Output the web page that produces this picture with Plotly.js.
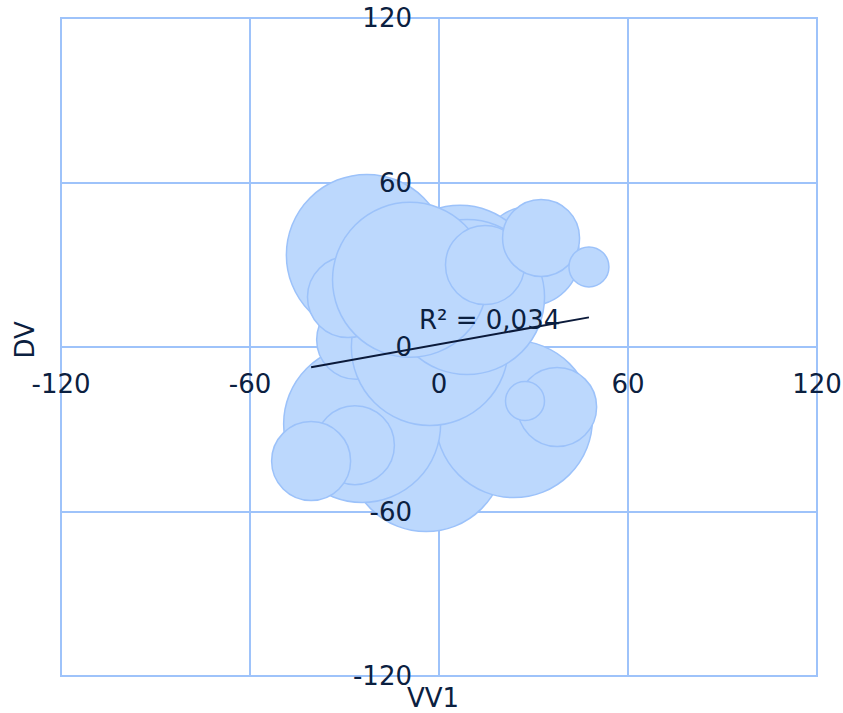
<!DOCTYPE html>
<html>
<head>
<meta charset="utf-8">
<script src="https://cdn.plot.ly/plotly-3.0.1.min.js"></script>
<style>html,body{margin:0;padding:0;background:#fff;}#chart{width:843px;height:713px;}</style>
</head>
<body>
<div id="chart"></div>
<script>
// Bubble data (VV1, DV, bubble diameter in px)
const vv1 = [-4.1, 23.8, -24.4, -26.3, -2.9, -22.9, -28.9, 28.9, 6.7, 8.9, -9.2, 14.6, 32.4, 47.6, 37.5, 27.3, -26.7, -40.6];
const dv  = [-38.7, -26.3, -28.1, 2.6, 0.0, 33.6, 18.2, 33.2, 23.4, 18.2, 24.5, 29.9, 39.8, 29.2, -21.9, -19.7, -35.8, -41.6];
const bubbleSize = [157, 157, 157, 79, 157, 161, 81, 99, 155, 155, 155, 79, 77, 40, 79, 39, 79, 79];

// Trend line
const trendSlope = 0.206;
const trendIntercept = 1.0;
const rSquaredLabel = "R² = 0,034";

// Axis ticks
const tickValues = [-120, -60, 0, 60, 120];
const tickLabels = ["-120", "-60", "0", "60", "120"];

const FONT = "DejaVu Sans, Verdana, sans-serif";
const FS = 26;
const TXT = "#0b2040";
const GRID = "#9ec3fa";

const xMin = Math.min(...vv1), xMax = Math.max(...vv1);
const trendX = [xMin, xMax];
const trendY = trendX.map(x => trendSlope * x + trendIntercept);

const traces = [
  {
    type: "scatter", mode: "markers",
    x: vv1, y: dv,
    marker: {
      size: bubbleSize, sizemode: "diameter", sizeref: 1,
      color: "#bcd8fd", opacity: 1,
      line: {color: "#9cc2fa", width: 1.5}
    },
    hoverinfo: "skip", showlegend: false
  },
  {
    type: "scatter", mode: "lines",
    x: trendX, y: trendY,
    line: {color: "#0b1a3a", width: 2},
    hoverinfo: "skip", showlegend: false
  }
];

const axisCommon = {
  range: [-120, 120],
  tickmode: "array", tickvals: tickValues, ticktext: tickLabels,
  showgrid: true, gridcolor: GRID, gridwidth: 2,
  zeroline: true, zerolinecolor: GRID, zerolinewidth: 2,
  showline: false, ticks: "",
  tickfont: {family: FONT, size: FS, color: TXT},
  anchor: "free", position: 0.5,
  automargin: false, fixedrange: true
};

const layout = {
  width: 843, height: 713,
  margin: {l: 61, r: 26, t: 18, b: 37},
  paper_bgcolor: "#ffffff", plot_bgcolor: "#ffffff",
  showlegend: false,
  xaxis: Object.assign({}, axisCommon, {ticklabelstandoff: 19}),
  yaxis: Object.assign({}, axisCommon, {ticklabelstandoff: 27}),
  shapes: [
    {type: "rect", xref: "paper", yref: "paper", x0: 0, x1: 1, y0: 0, y1: 1,
     line: {color: GRID, width: 2}, layer: "below"}
  ],
  annotations: [
    {text: "VV1", xref: "paper", yref: "paper", x: 0.492, y: -0.033,
     xanchor: "center", yanchor: "middle", showarrow: false,
     font: {family: FONT, size: FS, color: TXT}},
    {text: "DV", xref: "paper", yref: "paper", x: -0.048, y: 0.511,
     xanchor: "center", yanchor: "middle", showarrow: false, textangle: -90,
     font: {family: FONT, size: FS, color: TXT}},
    {text: rSquaredLabel, xref: "paper", yref: "paper", x: 0.471, y: 0.541,
     xanchor: "left", yanchor: "middle", showarrow: false,
     font: {family: FONT, size: FS, color: TXT}}
  ]
};

Plotly.newPlot("chart", traces, layout, {displayModeBar: false, staticPlot: true});
</script>
</body>
</html>
